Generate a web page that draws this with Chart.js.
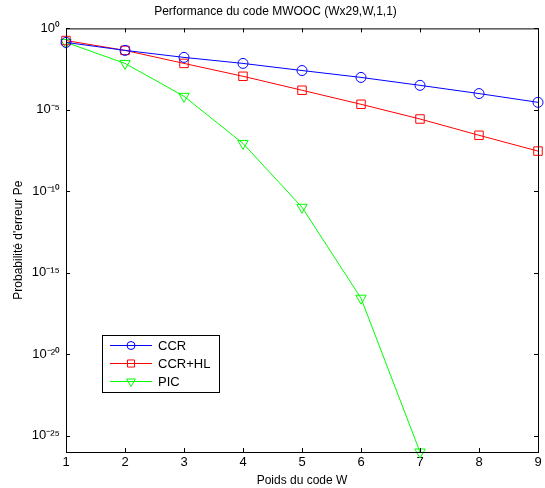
<!DOCTYPE html>
<html>
<head>
<meta charset="utf-8">
<script src="https://cdn.jsdelivr.net/npm/chart.js@4.4.0/dist/chart.umd.min.js"></script>
<style>
  html, body { margin: 0; background: #fff; }
</style>
</head>
<body>
<canvas id="chart" width="545" height="488"></canvas>
<script>
// poids du code W
const weights = [1, 2, 3, 4, 5, 6, 7, 8, 9];
// probabilites d'erreur
const ccr   = [0.138, 0.0447, 0.0166, 7.1e-3, 2.6e-3, 9.8e-4, 3.2e-4, 1.0e-4, 2.9e-5];
const ccrHl = [0.18, 0.0447, 7.1e-3, 1.15e-3, 1.6e-4, 2.2e-5, 2.75e-6, 2.75e-7, 2.95e-8];
const pic   = [0.138, 7.1e-3, 6.8e-5, 8.7e-8, 1.05e-11, 2.75e-17, 1e-26];
const xTicks = [1, 2, 3, 4, 5, 6, 7, 8, 9];
const yTicks = [1e0, 1e-5, 1e-10, 1e-15, 1e-20, 1e-25];

const FONT = 'Arial, "Liberation Sans", sans-serif';
const sup = { '-': '\u207B', '0': '\u2070', '1': '\u00B9', '2': '\u00B2', '3': '\u00B3', '4': '\u2074',
  '5': '\u2075', '6': '\u2076', '7': '\u2077', '8': '\u2078', '9': '\u2079' };
function powLabel(v){
  const e = String(Math.round(Math.log10(v)));
  return '10' + e.split('').map(c => sup[c]).join('');
}
const pts = arr => arr.map((v, i) => ({ x: weights[i], y: v }));

// cadre + graduations vers l'interieur (style matlab)
const boxPlugin = {
  id: 'box',
  afterDatasetsDraw(chart){
    const { ctx, chartArea: a, scales } = chart;
    ctx.save();
    ctx.strokeStyle = '#000'; ctx.lineWidth = 1;
    ctx.strokeRect(a.left + 0.5, a.top + 0.5, a.right - a.left, a.bottom - a.top);
    ctx.beginPath();
    xTicks.forEach(v => {
      const x = Math.round(scales.x.getPixelForValue(v)) + 0.5;
      ctx.moveTo(x, a.bottom); ctx.lineTo(x, a.bottom - 4);
      ctx.moveTo(x, a.top); ctx.lineTo(x, a.top + 4);
    });
    yTicks.forEach(v => {
      const y = Math.round(scales.y.getPixelForValue(v)) + 0.5;
      ctx.moveTo(a.left, y); ctx.lineTo(a.left + 4, y);
      ctx.moveTo(a.right, y); ctx.lineTo(a.right - 4, y);
    });
    ctx.stroke();
    ctx.restore();
  }
};

// legende dans le graphe
const legendPlugin = {
  id: 'boxLegend',
  afterDraw(chart){
    const { ctx } = chart;
    const bx = 102, by = 335, bw = 117, bh = 57;
    ctx.save();
    ctx.fillStyle = '#fff';
    ctx.fillRect(bx, by, bw, bh);
    ctx.strokeStyle = '#000'; ctx.lineWidth = 1;
    ctx.strokeRect(bx + 0.5, by + 0.5, bw, bh);
    const rows = [345, 363, 381];
    chart.data.datasets.forEach((ds, i) => {
      const y = rows[i] + 0.5;
      ctx.strokeStyle = ds.borderColor; ctx.lineWidth = 1;
      ctx.beginPath(); ctx.moveTo(110, y); ctx.lineTo(152, y); ctx.stroke();
      ctx.fillStyle = 'rgba(0,0,0,0)';
      Chart.helpers.drawPoint(ctx, { pointStyle: ds.pointStyle, rotation: ds.pointRotation || 0,
        radius: ds.pointRadius - 1, borderWidth: 1 }, 131, y);
      ctx.fillStyle = '#000';
      ctx.font = '13px ' + FONT;
      ctx.textBaseline = 'middle';
      ctx.fillText(ds.label, 158, y + 1);
    });
    ctx.restore();
  }
};

new Chart(document.getElementById('chart'), {
  type: 'line',
  data: {
    datasets: [
      { label: 'CCR', data: pts(ccr), borderColor: '#0000ff', pointStyle: 'circle', pointRadius: 5 },
      { label: 'CCR+HL', data: pts(ccrHl), borderColor: '#ff0000', pointStyle: 'rect', pointRadius: 6 },
      { label: 'PIC', data: pts(pic), borderColor: '#00ff00', pointStyle: 'triangle', pointRotation: 180, pointRadius: 6 }
    ].map(d => Object.assign({
      borderWidth: 1, pointBorderColor: d.borderColor, pointBackgroundColor: 'rgba(0,0,0,0)',
      pointBorderWidth: 1, pointHoverRadius: d.pointRadius, tension: 0, fill: false, clip: false
    }, d))
  },
  options: {
    responsive: false,
    animation: false,
    devicePixelRatio: 1,
    layout: { padding: { left: 11, right: 5, top: 0, bottom: 0 } },
    plugins: {
      legend: { display: false },
      tooltip: { enabled: false },
      title: {
        display: true, text: 'Performance du code MWOOC (Wx29,W,1,1)',
        color: '#000', font: { family: FONT, size: 12, weight: 'normal' },
        padding: { top: 4, bottom: 10 }
      }
    },
    scales: {
      x: {
        type: 'linear', min: 1, max: 9,
        afterBuildTicks: s => { s.ticks = xTicks.map(v => ({ value: v })); },
        afterFit: s => { s.height = 36; },
        grid: { display: false, drawTicks: false },
        border: { display: false },
        ticks: { color: '#000', font: { family: FONT, size: 13 }, padding: 3, maxRotation: 0 },
        title: { display: true, text: 'Poids du code W', color: '#000',
          font: { family: FONT, size: 12 }, padding: { top: 0, bottom: 0 } }
      },
      y: {
        type: 'logarithmic', min: 1e-26, max: 1,
        afterBuildTicks: s => { s.ticks = yTicks.map(v => ({ value: v })); },
        afterFit: s => { s.width = 55; },
        grid: { display: false, drawTicks: false },
        border: { display: false },
        ticks: { color: '#000', font: { family: FONT, size: 13 }, padding: 6, callback: v => powLabel(v) },
        title: { display: true, text: "Probabilité d'erreur Pe", color: '#000',
          font: { family: FONT, size: 12 }, padding: { top: 0, bottom: 4 } }
      }
    }
  },
  plugins: [boxPlugin, legendPlugin]
});
</script>
</body>
</html>
